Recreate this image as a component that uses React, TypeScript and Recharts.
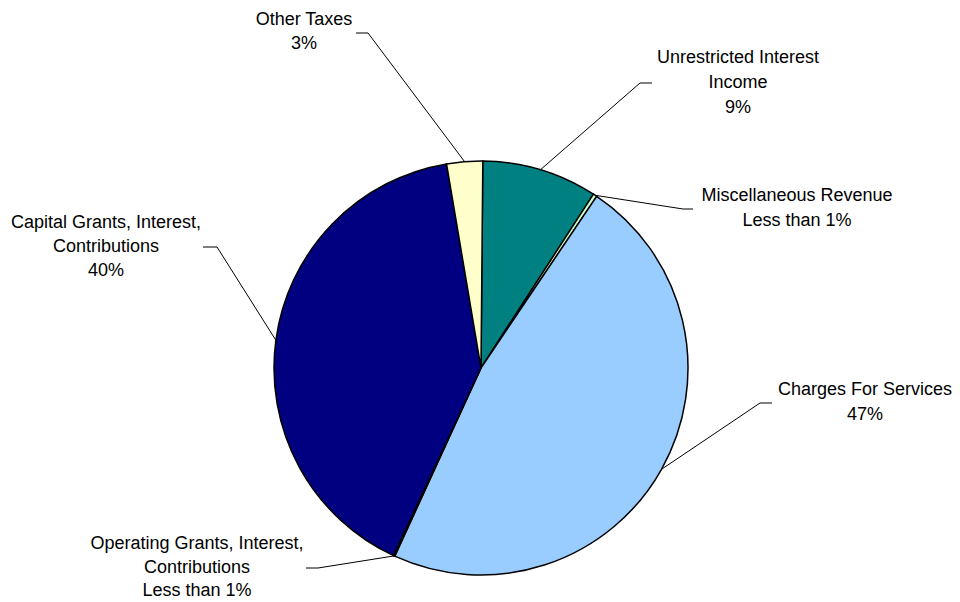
import React from "react";
import { PieChart, Pie, Cell } from "recharts";

const categories = [
  "Unrestricted Interest Income",
  "Miscellaneous Revenue",
  "Charges For Services",
  "Operating Grants, Interest, Contributions",
  "Capital Grants, Interest, Contributions",
  "Other Taxes",
];
const shares = [9.0, 0.3, 47.4, 0.1, 40.4, 2.8];
const pctLabels = ["9%", "Less than 1%", "47%", "Less than 1%", "40%", "3%"];
const nameLines = [
  ["Unrestricted Interest", "Income"],
  ["Miscellaneous Revenue"],
  ["Charges For Services"],
  ["Operating Grants, Interest,", "Contributions"],
  ["Capital Grants, Interest,", "Contributions"],
  ["Other Taxes"],
];
const colors = ["#008080", "#CCFFCC", "#99CCFF", "#FF8080", "#000080", "#FFFFCC"];

// label layout offsets relative to pie center (style only)
const labelLayout = [
  { tx: 257, ty: -311, lh: 25, sx: 171, ex: 159, ey: -285 },
  { tx: 316, ty: -173, lh: 25, sx: 212, ex: 202, ey: -159 },
  { tx: 384, ty: 21, lh: 25, sx: 291, ex: 279, ey: 35 },
  { tx: -284, ty: 175, lh: 23.5, sx: -175, ex: -163, ey: 200 },
  { tx: -375, ty: -146, lh: 24, sx: -278, ex: -264, ey: -121 },
  { tx: -177, ty: -349, lh: 24, sx: -125, ex: -113, ey: -335 },
];

const data = categories.map((name, i) => ({ name, value: shares[i] }));

const RAD = Math.PI / 180;

const renderLabel = (props: any) => {
  const { cx, cy, midAngle, outerRadius, index } = props;
  const L = labelLayout[index];
  const px = cx + outerRadius * Math.cos(-midAngle * RAD);
  const py = cy + outerRadius * Math.sin(-midAngle * RAD);
  const lines = [...nameLines[index], pctLabels[index]];
  return (
    <g key={`lbl-${index}`}>
      <polyline
        points={`${cx + L.sx},${cy + L.ey} ${cx + L.ex},${cy + L.ey} ${px},${py}`}
        fill="none"
        stroke="#000"
        strokeWidth={1}
      />
      {lines.map((t, j) => (
        <text
          key={j}
          x={cx + L.tx}
          y={cy + L.ty + j * L.lh}
          textAnchor="middle"
          dominantBaseline="central"
          fontFamily="'Liberation Sans', Arial, sans-serif"
          fontSize={18}
          fill="#000"
        >
          {t}
        </text>
      ))}
    </g>
  );
};

export default function App() {
  return (
    <div style={{ width: 952, height: 594, background: "#fff" }}>
      <PieChart width={952} height={594} margin={{ top: 0, right: 0, bottom: 0, left: 0 }}>
        <Pie
          data={data}
          dataKey="value"
          nameKey="name"
          cx={473}
          cy={360}
          outerRadius={207}
          startAngle={89.5}
          endAngle={-270.5}
          stroke="#000"
          strokeWidth={1.5}
          label={renderLabel}
          labelLine={false}
          isAnimationActive={false}
        >
          {data.map((d, i) => (
            <Cell key={d.name} fill={colors[i]} />
          ))}
        </Pie>
      </PieChart>
    </div>
  );
}
